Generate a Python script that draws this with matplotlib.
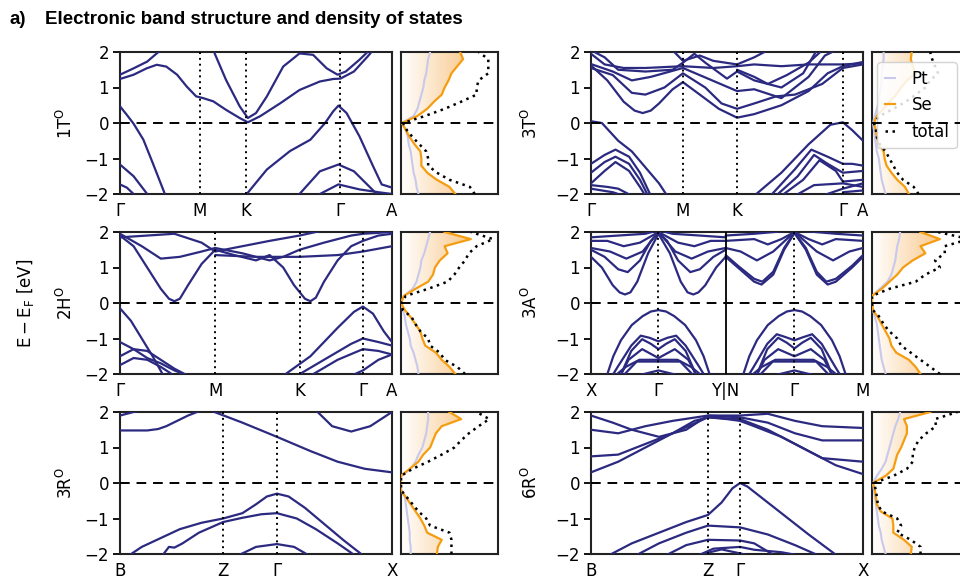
import numpy as np
import matplotlib
matplotlib.use("Agg")
import matplotlib.pyplot as plt
from matplotlib.colors import LinearSegmentedColormap

# ---------------- data ----------------
# high-symmetry points (fractional path positions) and labels
hs_1T = [0.0, 0.294, 0.463, 0.809, 1.0]
lab_1T = ["Γ", "M", "K", "Γ", "A"]
hs_2H = [0.0, 0.35, 0.66, 0.893, 1.0]
lab_2H = ["Γ", "M", "K", "Γ", "A"]
hs_3R = [0.0, 0.379, 0.577, 1.0]
lab_3R = ["B", "Z", "Γ", "X"]
hs_3T = [0.0, 0.338, 0.537, 0.926, 1.0]
lab_3T = ["Γ", "M", "K", "Γ", "A"]
hs_3A = [0.0, 0.248, 0.495, 0.748, 1.0]
lab_3A = ["X", "Γ", "Y|N", "Γ", "M"]
hs_6R = [0.0, 0.43, 0.548, 1.0]
lab_6R = ["B", "Z", "Γ", "X"]

# bands: list of (k, E) pairs
bands_1T = [
    ([0, 0.05, 0.098, 0.135, 0.17, 0.21, 0.245, 0.28, 0.306, 0.343, 0.39, 0.44, 0.47, 0.515, 0.59, 0.66, 0.735, 0.784, 0.81, 0.86, 0.91, 0.93],
     [1.24, 1.36, 1.54, 1.64, 1.59, 1.36, 1.03, 0.75, 0.70, 0.61, 0.37, 0.14, 0.02, 0.19, 0.56, 0.93, 1.17, 1.24, 1.25, 1.45, 1.87, 2.05]),
    ([0, 0.05, 0.1, 0.135, 0.15], [1.36, 1.54, 1.73, 1.96, 2.05]),
    ([0.343, 0.39, 0.44, 0.47, 0.5, 0.54, 0.6, 0.66, 0.71, 0.76, 0.8, 0.83, 0.88, 0.91],
     [2.05, 1.21, 0.47, 0.14, 0.28, 0.75, 1.59, 1.96, 1.92, 1.54, 1.36, 1.45, 1.78, 2.0]),
    ([0, 0.025, 0.05, 0.086, 0.12, 0.165], [0.47, 0.23, -0.02, -0.47, -1.12, -2.0]),
    ([0.466, 0.54, 0.625, 0.7, 0.754, 0.784, 0.803, 0.833, 0.88, 0.93, 0.962, 1.0],
     [-2.0, -1.31, -0.79, -0.47, 0.0, 0.33, 0.49, 0.28, -0.37, -1.21, -1.73, -1.82]),
    ([0.66, 0.735, 0.803, 0.86, 0.944], [-2.0, -1.36, -1.17, -1.36, -2.0]),
    ([0.735, 0.803, 0.88, 0.95, 1.0], [-2.0, -1.73, -1.87, -1.95, -2.0]),
    ([0, 0.05, 0.1], [-1.17, -1.5, -2.0]),
    ([0, 0.025, 0.05], [-1.73, -1.82, -2.0]),
]

bands_2H = [
    ([0, 0.05, 0.1, 0.15, 0.18, 0.2, 0.22, 0.25, 0.3, 0.35, 0.42, 0.5, 0.55, 0.6, 0.64, 0.68, 0.7, 0.72, 0.75, 0.8, 0.85, 0.893, 0.95, 1.0],
     [1.9, 1.6, 1.0, 0.4, 0.12, 0.05, 0.12, 0.5, 1.1, 1.5, 1.35, 1.2, 1.35, 1.0, 0.5, 0.12, 0.05, 0.15, 0.6, 1.2, 1.6, 1.75, 1.9, 1.95]),
    ([0, 0.08, 0.15, 0.22, 0.3, 0.35, 0.45, 0.55, 0.6, 0.66, 0.75, 0.85, 0.893, 1.0],
     [1.95, 1.6, 1.25, 1.3, 1.45, 1.55, 1.4, 1.2, 1.3, 1.5, 1.7, 1.9, 1.95, 2.0]),
    ([0, 0.1, 0.2, 0.3, 0.35, 0.45, 0.55, 0.66, 0.75],
     [1.85, 1.9, 1.95, 1.7, 1.45, 1.6, 1.75, 1.9, 2.05]),
    ([0.35, 0.5, 0.66, 0.8, 0.893, 1.0], [1.35, 1.3, 1.3, 1.35, 1.45, 1.6]),
    ([0, 0.04, 0.08, 0.12, 0.16], [-0.15, -0.5, -1.0, -1.5, -2.05]),
    ([0, 0.05, 0.1, 0.15, 0.2, 0.25], [-1.1, -1.3, -1.55, -1.7, -1.9, -2.05]),
    ([0, 0.05, 0.1, 0.15, 0.2, 0.25], [-1.5, -1.3, -1.35, -1.6, -1.85, -2.05]),
    ([0, 0.05, 0.1, 0.15, 0.2], [-1.75, -1.55, -1.6, -1.8, -2.05]),
    ([0.6, 0.7, 0.8, 0.86, 0.893, 0.93, 0.97, 1.0], [-2.05, -1.5, -0.7, -0.25, -0.1, -0.3, -0.8, -1.1]),
    ([0.65, 0.75, 0.85, 0.893, 0.95, 1.0], [-2.05, -1.6, -1.15, -1.0, -1.1, -1.2]),
    ([0.7, 0.8, 0.893, 0.95, 1.0], [-2.05, -1.6, -1.3, -1.35, -1.45]),
    ([0.85, 0.893, 0.95, 1.0], [-2.05, -1.9, -1.6, -1.45]),
]

bands_3R = [
    ([0, 0.1, 0.14, 0.17, 0.21, 0.25, 0.3], [1.48, 1.48, 1.52, 1.6, 1.75, 1.9, 2.05]),
    ([0, 0.05, 0.08], [1.9, 2.0, 2.05]),
    ([0.33, 0.45, 0.577, 0.7, 0.8, 0.9, 1.0], [2.05, 1.7, 1.3, 0.9, 0.6, 0.4, 0.3]),
    ([0.72, 0.78, 0.85, 0.92, 1.0], [2.05, 1.6, 1.45, 1.6, 2.0]),
    ([0.037, 0.08, 0.15, 0.22, 0.3, 0.379, 0.45, 0.5, 0.54, 0.577, 0.62, 0.68, 0.75, 0.82, 0.89],
     [-2.02, -1.8, -1.55, -1.3, -1.12, -1.0, -0.85, -0.6, -0.38, -0.3, -0.38, -0.7, -1.15, -1.6, -2.02]),
    ([0.158, 0.18, 0.2, 0.23, 0.29, 0.379, 0.45, 0.52, 0.577, 0.65, 0.72, 0.8, 0.86],
     [-2.02, -1.8, -1.82, -1.7, -1.4, -1.1, -0.98, -0.88, -0.85, -1.0, -1.3, -1.7, -2.02]),
    ([0.44, 0.5, 0.577, 0.64, 0.69], [-2.02, -1.8, -1.72, -1.8, -2.02]),
]

bands_3T = [
    ([0, 0.06, 0.12, 0.16, 0.19, 0.22, 0.25, 0.3, 0.338, 0.4, 0.47, 0.537, 0.6, 0.7, 0.8, 0.87, 0.926, 1.0],
     [1.62, 1.2, 0.6, 0.35, 0.28, 0.35, 0.55, 0.95, 1.15, 0.8, 0.4, 0.15, 0.25, 0.5, 0.9, 1.4, 1.6, 1.72]),
    ([0, 0.08, 0.15, 0.2, 0.27, 0.338, 0.42, 0.48, 0.537, 0.6, 0.68, 0.75, 0.85, 0.926, 1.0],
     [1.55, 1.35, 0.85, 0.8, 1.0, 1.4, 1.0, 0.55, 0.4, 0.55, 0.75, 0.8, 1.1, 1.55, 1.65]),
    ([0, 0.08, 0.15, 0.22, 0.338, 0.43, 0.537, 0.6, 0.7, 0.8, 0.86, 0.9],
     [1.66, 1.45, 1.2, 1.3, 1.55, 1.25, 0.9, 0.95, 0.7, 1.3, 1.9, 2.05]),
    ([0, 0.05, 0.12, 0.2, 0.338, 0.45, 0.537, 0.6, 0.7, 0.8, 0.926, 1.0],
     [1.95, 1.65, 1.55, 1.55, 1.6, 1.55, 1.6, 1.65, 1.6, 1.65, 1.65, 1.68]),
    ([0, 0.05, 0.1, 0.2, 0.3, 0.338, 0.38, 0.42, 0.5, 0.537, 0.6, 0.7, 0.78, 0.83],
     [2.05, 1.85, 1.5, 1.45, 1.5, 1.7, 1.95, 1.7, 1.25, 1.45, 1.2, 1.0, 1.4, 2.05]),
    ([0.3, 0.338, 0.4, 0.45, 0.537, 0.6, 0.65], [2.05, 1.75, 1.9, 1.75, 1.65, 1.85, 2.05]),
    ([0.537, 0.6, 0.65, 0.72, 0.8, 0.85], [1.5, 1.3, 1.1, 1.35, 1.7, 2.05]),
    ([0, 0.04, 0.1, 0.15, 0.2, 0.25, 0.28], [0.05, 0.0, -0.5, -0.8, -1.25, -1.7, -2.05]),
    ([0, 0.05, 0.09, 0.14, 0.18, 0.22], [-1.15, -0.9, -0.75, -0.95, -1.4, -2.05]),
    ([0, 0.05, 0.09, 0.14, 0.18, 0.21], [-1.4, -1.1, -0.95, -1.15, -1.6, -2.05]),
    ([0, 0.05, 0.09, 0.14, 0.18, 0.2], [-1.7, -1.35, -1.1, -1.35, -1.8, -2.05]),
    ([0, 0.06, 0.1, 0.15], [-1.75, -1.8, -1.85, -2.05]),
    ([0, 0.08, 0.12], [-1.85, -1.95, -2.05]),
    ([0.6, 0.7, 0.8, 0.88, 0.926, 0.96, 1.0], [-2.05, -1.4, -0.6, -0.05, 0.02, -0.2, -0.5]),
    ([0.66, 0.75, 0.81, 0.87, 0.926, 0.96, 1.0], [-2.05, -1.3, -0.75, -0.95, -1.15, -1.15, -1.2]),
    ([0.68, 0.76, 0.82, 0.87, 0.926, 1.0], [-2.05, -1.5, -0.9, -1.15, -1.4, -1.35]),
    ([0.7, 0.78, 0.84, 0.9, 0.926, 1.0], [-2.05, -1.6, -1.05, -1.35, -1.65, -1.6]),
    ([0.75, 0.82, 0.926, 1.0], [-2.05, -1.75, -1.7, -1.8]),
    ([0.85, 0.926, 1.0], [-2.05, -1.85, -1.7]),
    ([0.926, 1.0], [-1.95, -1.9]),
]

bands_3A = [
    ([0, 0.04, 0.08, 0.105, 0.125, 0.145, 0.17, 0.21, 0.248, 0.29, 0.33, 0.355, 0.376, 0.395, 0.42, 0.46, 0.495],
     [1.3, 1.0, 0.5, 0.3, 0.24, 0.3, 0.6, 1.4, 1.95, 1.4, 0.6, 0.3, 0.24, 0.3, 0.5, 1.0, 1.3]),
    ([0, 0.05, 0.1, 0.135, 0.18, 0.22, 0.248, 0.28, 0.32, 0.365, 0.4, 0.45, 0.495],
     [1.5, 1.3, 0.95, 0.87, 1.2, 1.75, 1.98, 1.75, 1.2, 0.87, 0.95, 1.3, 1.5]),
    ([0, 0.07, 0.13, 0.19, 0.248, 0.31, 0.37, 0.43, 0.495],
     [1.55, 1.45, 1.25, 1.45, 2.0, 1.45, 1.25, 1.45, 1.55]),
    ([0, 0.06, 0.12, 0.18, 0.248, 0.32, 0.38, 0.44, 0.495],
     [1.75, 1.75, 1.6, 1.7, 2.0, 1.7, 1.6, 1.75, 1.75]),
    ([0, 0.1, 0.2, 0.248, 0.3, 0.4, 0.495], [1.85, 1.9, 1.95, 2.05, 1.95, 1.9, 1.85]),
    ([0.495, 0.54, 0.6, 0.627, 0.67, 0.71, 0.748, 0.79, 0.83, 0.87, 0.9, 0.96, 1.0],
     [1.3, 1.0, 0.6, 0.52, 0.8, 1.5, 1.97, 1.5, 0.8, 0.52, 0.6, 1.0, 1.3]),
    ([0.495, 0.54, 0.6, 0.63, 0.67, 0.71, 0.748, 0.79, 0.83, 0.865, 0.9, 0.96, 1.0],
     [1.35, 1.05, 0.68, 0.6, 0.88, 1.55, 1.98, 1.55, 0.88, 0.6, 0.68, 1.05, 1.35]),
    ([0.495, 0.55, 0.61, 0.67, 0.748, 0.83, 0.89, 0.95, 1.0],
     [1.55, 1.45, 1.2, 1.45, 2.0, 1.45, 1.2, 1.45, 1.55]),
    ([0.495, 0.6, 0.65, 0.7, 0.748, 0.8, 0.85, 0.9, 1.0],
     [1.75, 1.8, 1.65, 1.8, 2.0, 1.8, 1.65, 1.8, 1.75]),
    ([0.495, 0.6, 0.748, 0.9, 1.0], [1.9, 1.95, 2.05, 1.95, 1.9]),
    # valence, first segment
    ([0.058, 0.082, 0.11, 0.15, 0.19, 0.22, 0.248, 0.276, 0.306, 0.346, 0.386, 0.414, 0.438],
     [-2.05, -1.5, -1.05, -0.62, -0.37, -0.24, -0.2, -0.24, -0.37, -0.62, -1.05, -1.5, -2.05]),
    ([0.078, 0.098, 0.148, 0.183, 0.215, 0.248, 0.281, 0.313, 0.348, 0.398, 0.418],
     [-2.05, -1.8, -1.2, -0.92, -0.98, -1.08, -0.98, -0.92, -1.2, -1.8, -2.05]),
    ([0.108, 0.148, 0.188, 0.22, 0.248, 0.276, 0.308, 0.348, 0.388],
     [-2.05, -1.35, -1.02, -1.15, -1.3, -1.15, -1.02, -1.35, -2.05]),
    ([0.108, 0.138, 0.188, 0.248, 0.308, 0.358, 0.388],
     [-2.05, -1.6, -1.3, -1.55, -1.3, -1.6, -2.05]),
    ([0.088, 0.128, 0.178, 0.248, 0.318, 0.368, 0.408],
     [-2.05, -1.8, -1.6, -1.6, -1.6, -1.8, -2.05]),
    ([0.118, 0.168, 0.248, 0.328, 0.378], [-2.05, -1.65, -1.65, -1.65, -2.05]),
    ([0.168, 0.248, 0.328], [-2.05, -1.9, -2.05]),
    # valence, second segment
    ([0.558, 0.582, 0.61, 0.65, 0.69, 0.72, 0.748, 0.776, 0.806, 0.846, 0.886, 0.914, 0.938],
     [-2.05, -1.5, -1.05, -0.62, -0.37, -0.24, -0.2, -0.24, -0.37, -0.62, -1.05, -1.5, -2.05]),
    ([0.578, 0.598, 0.648, 0.683, 0.715, 0.748, 0.781, 0.813, 0.848, 0.898, 0.918],
     [-2.05, -1.8, -1.15, -0.88, -0.96, -1.05, -0.96, -0.88, -1.15, -1.8, -2.05]),
    ([0.608, 0.648, 0.688, 0.72, 0.748, 0.776, 0.808, 0.848, 0.888],
     [-2.05, -1.3, -0.98, -1.12, -1.28, -1.12, -0.98, -1.3, -2.05]),
    ([0.608, 0.638, 0.688, 0.748, 0.808, 0.858, 0.888],
     [-2.05, -1.6, -1.3, -1.5, -1.3, -1.6, -2.05]),
    ([0.588, 0.628, 0.678, 0.748, 0.818, 0.868, 0.908],
     [-2.05, -1.8, -1.6, -1.6, -1.6, -1.8, -2.05]),
    ([0.618, 0.668, 0.748, 0.828, 0.878], [-2.05, -1.65, -1.65, -1.65, -2.05]),
    ([0.668, 0.748, 0.828], [-2.05, -1.9, -2.05]),
]

bands_6R = [
    ([0, 0.1, 0.2, 0.3, 0.38, 0.43, 0.5, 0.548, 0.6, 0.7, 0.8, 0.9, 1.0],
     [0.3, 0.6, 1.0, 1.4, 1.75, 1.85, 1.8, 1.75, 1.6, 1.3, 0.9, 0.5, 0.25]),
    ([0, 0.1, 0.2, 0.3, 0.43, 0.548, 0.65, 0.75, 0.85, 1.0],
     [0.75, 0.8, 1.1, 1.4, 1.85, 1.8, 1.5, 1.1, 0.7, 0.6]),
    ([0, 0.08, 0.15, 0.25, 0.35, 0.43, 0.548, 0.65, 0.75, 0.85, 0.95, 1.0],
     [1.9, 1.7, 1.5, 1.3, 1.5, 1.9, 1.85, 1.7, 1.4, 1.2, 1.2, 1.2]),
    ([0, 0.1, 0.2, 0.3, 0.43, 0.548, 0.65, 0.75, 0.85, 1.0],
     [1.5, 1.4, 1.6, 1.75, 1.9, 1.9, 1.95, 1.75, 1.6, 1.55]),
    ([0.07, 0.15, 0.25, 0.35, 0.43, 0.48, 0.52, 0.548, 0.575, 0.6, 0.7, 0.8, 0.9],
     [-2.02, -1.7, -1.4, -1.1, -0.9, -0.55, -0.15, 0.0, -0.1, -0.25, -0.85, -1.45, -2.02]),
    ([0.17, 0.25, 0.35, 0.43, 0.548, 0.65, 0.75, 0.83],
     [-2.02, -1.7, -1.4, -1.2, -1.25, -1.45, -1.75, -2.02]),
    ([0.28, 0.35, 0.43, 0.548, 0.6, 0.67], [-2.02, -1.75, -1.6, -1.62, -1.7, -2.02]),
    ([0.4, 0.45, 0.548, 0.6, 0.7, 0.75], [-2.02, -1.85, -1.8, -1.88, -1.95, -2.02]),
    ([0.4, 0.48, 0.57], [-2.02, -1.87, -2.02]),
]

# density of states: energies and (normalised) DOS for Pt, Se and total
dos_E = [-2.0, -1.8, -1.6, -1.4, -1.2, -1.0, -0.8, -0.6, -0.4, -0.2, 0.0,
         0.2, 0.4, 0.6, 0.8, 1.0, 1.2, 1.4, 1.6, 1.8, 2.0]

dos_1T_pt = [0.18, 0.16, 0.15, 0.13, 0.12, 0.11, 0.10, 0.08, 0.07, 0.05, 0.01,
             0.13, 0.17, 0.19, 0.21, 0.23, 0.24, 0.26, 0.27, 0.28, 0.30]
dos_1T_se = [0.56, 0.50, 0.37, 0.27, 0.21, 0.21, 0.20, 0.14, 0.09, 0.05, 0.01,
             0.17, 0.27, 0.34, 0.42, 0.45, 0.49, 0.52, 0.58, 0.64, 0.61]
dos_1T_tot = [0.76, 0.71, 0.50, 0.37, 0.28, 0.28, 0.26, 0.19, 0.12, 0.06, 0.02,
              0.25, 0.45, 0.62, 0.78, 0.78, 0.80, 0.90, 0.90, 0.90, 0.80]

dos_2H_pt = [0.18, 0.17, 0.15, 0.13, 0.10, 0.09, 0.07, 0.05, 0.04, 0.02, 0.0,
             0.03, 0.12, 0.16, 0.18, 0.20, 0.21, 0.24, 0.26, 0.28, 0.30]
dos_2H_se = [0.56, 0.50, 0.42, 0.36, 0.25, 0.22, 0.20, 0.15, 0.10, 0.04, 0.0,
             0.03, 0.15, 0.28, 0.33, 0.35, 0.40, 0.48, 0.45, 0.72, 0.45]
dos_2H_tot = [0.66, 0.58, 0.45, 0.40, 0.30, 0.28, 0.20, 0.15, 0.11, 0.02, 0.0,
              0.05, 0.28, 0.48, 0.55, 0.60, 0.66, 0.70, 0.78, 0.95, 0.72]

dos_3R_pt = [0.10, 0.10, 0.09, 0.09, 0.08, 0.07, 0.06, 0.05, 0.04, 0.0, 0.0,
             0.0, 0.10, 0.15, 0.18, 0.22, 0.24, 0.26, 0.27, 0.28, 0.28]
dos_3R_se = [0.37, 0.38, 0.42, 0.27, 0.24, 0.20, 0.15, 0.10, 0.05, 0.0, 0.0,
             0.0, 0.09, 0.18, 0.23, 0.30, 0.33, 0.36, 0.42, 0.62, 0.50]
dos_3R_tot = [0.52, 0.52, 0.52, 0.50, 0.30, 0.26, 0.18, 0.12, 0.06, 0.0, 0.0,
              0.0, 0.12, 0.28, 0.42, 0.55, 0.62, 0.70, 0.80, 0.91, 0.78]

dos_3T_pt = [0.14, 0.12, 0.10, 0.09, 0.08, 0.07, 0.05, 0.04, 0.03, 0.02, 0.01,
             0.03, 0.05, 0.07, 0.08, 0.09, 0.10, 0.10, 0.11, 0.12, 0.12]
dos_3T_se = [0.38, 0.34, 0.26, 0.20, 0.15, 0.13, 0.12, 0.07, 0.05, 0.04, 0.02,
             0.05, 0.12, 0.18, 0.25, 0.30, 0.36, 0.45, 0.42, 0.40, 0.41]
dos_3T_tot = [0.48, 0.43, 0.32, 0.26, 0.22, 0.18, 0.14, 0.08, 0.05, 0.04, 0.02,
              0.08, 0.22, 0.35, 0.45, 0.55, 0.60, 0.68, 0.65, 0.62, 0.60]

dos_3A_pt = [0.14, 0.12, 0.10, 0.09, 0.08, 0.07, 0.06, 0.05, 0.03, 0.01, 0.0,
             0.0, 0.08, 0.16, 0.20, 0.22, 0.24, 0.25, 0.26, 0.28, 0.29]
dos_3A_se = [0.50, 0.45, 0.38, 0.25, 0.20, 0.18, 0.14, 0.10, 0.06, 0.01, 0.0,
             0.0, 0.10, 0.18, 0.26, 0.32, 0.42, 0.55, 0.50, 0.70, 0.50]
dos_3A_tot = [0.70, 0.60, 0.50, 0.40, 0.30, 0.26, 0.18, 0.12, 0.08, 0.01, 0.0,
              0.0, 0.18, 0.45, 0.55, 0.70, 0.65, 0.75, 0.75, 1.0, 0.68]

dos_6R_pt = [0.14, 0.12, 0.10, 0.09, 0.07, 0.06, 0.05, 0.04, 0.03, 0.02, 0.01,
             0.05, 0.10, 0.14, 0.16, 0.18, 0.20, 0.22, 0.24, 0.27, 0.29]
dos_6R_se = [0.40, 0.41, 0.33, 0.22, 0.22, 0.21, 0.09, 0.05, 0.04, 0.03, 0.01,
             0.14, 0.22, 0.24, 0.26, 0.30, 0.33, 0.36, 0.36, 0.33, 0.60]
dos_6R_tot = [0.50, 0.50, 0.40, 0.26, 0.30, 0.26, 0.10, 0.06, 0.05, 0.04, 0.02,
              0.22, 0.36, 0.42, 0.42, 0.44, 0.48, 0.56, 0.66, 0.65, 0.88]

row_labels = ["1T$^\\mathrm{O}$", "2H$^\\mathrm{O}$", "3R$^\\mathrm{O}$",
              "3T$^\\mathrm{O}$", "3A$^\\mathrm{O}$", "6R$^\\mathrm{O}$"]

# ---------------- style ----------------
BAND = "#2b2a80"
SE = "#f59d10"
PT = "#c9c9ec"
plt.rcParams["font.family"] = ["DejaVu Sans"]
plt.rcParams["font.size"] = 12

W, H = 960, 579
fig = plt.figure(figsize=(W / 100, H / 100), dpi=100)

def fx(px):
    return px / W

rows_top = [52, 232, 412]
ah = 142
col_band_x = [120, 591]
col_dos_x = [401, 872]
col_label_x = [66, 531]
bw, dw = 272, 97

panels = [
    (0, 0, bands_1T, hs_1T, lab_1T, dos_1T_pt, dos_1T_se, dos_1T_tot, [], row_labels[0]),
    (1, 0, bands_2H, hs_2H, lab_2H, dos_2H_pt, dos_2H_se, dos_2H_tot, [], row_labels[1]),
    (2, 0, bands_3R, hs_3R, lab_3R, dos_3R_pt, dos_3R_se, dos_3R_tot, [], row_labels[2]),
    (0, 1, bands_3T, hs_3T, lab_3T, dos_3T_pt, dos_3T_se, dos_3T_tot, [], row_labels[3]),
    (1, 1, bands_3A, hs_3A, lab_3A, dos_3A_pt, dos_3A_se, dos_3A_tot, [2], row_labels[4]),
    (2, 1, bands_6R, hs_6R, lab_6R, dos_6R_pt, dos_6R_se, dos_6R_tot, [], row_labels[5]),
]

grad_cmap = LinearSegmentedColormap.from_list("g", ["#ffffff", "#f7b96c"])

for r, c, bands, hs, labs, pt, se, tot, solid, rlab in panels:
    top = rows_top[r]
    bottom = 1 - (top + ah) / H
    axb = fig.add_axes([fx(col_band_x[c]), bottom, fx(bw), ah / H])
    for k, e in bands:
        axb.plot(k, e, color=BAND, lw=1.6, solid_capstyle="round",
                 solid_joinstyle="round", zorder=3)
    for i, x in enumerate(hs[1:-1], start=1):
        if i in solid:
            axb.axvline(x, color="black", lw=1.3, zorder=4)
        else:
            axb.axvline(x, color="black", lw=1.4, ls=(0, (1, 2)), zorder=4)
    axb.axhline(0, color="black", lw=1.4, ls=(0, (5, 3.5)), zorder=4)
    axb.set_xlim(0, 1)
    axb.set_ylim(-2, 2)
    axb.set_yticks([-2, -1, 0, 1, 2])
    axb.set_yticklabels(["\u22122", "\u22121", "0", "1", "2"])
    axb.set_xticks(hs)
    axb.set_xticklabels(labs)
    axb.tick_params(axis="x", length=0, pad=6, labelsize=12)
    axb.tick_params(axis="y", length=5, width=1.3, labelsize=12, pad=3)
    for s in axb.spines.values():
        s.set_linewidth(1.5)
        s.set_color("#222222")
    axb.set_ylabel(rlab, fontsize=12, va="center")
    axb.yaxis.set_label_coords((col_label_x[c] - col_band_x[c]) / bw, 0.5)

    # DOS panel
    axd = fig.add_axes([fx(col_dos_x[c]), bottom, fx(dw), ah / H])
    axd.set_xlim(0, 1)
    axd.set_ylim(-2, 2)
    grad = np.linspace(0, 1, 256).reshape(1, -1)
    im = axd.imshow(grad, extent=[0, 0.9, -2, 2], aspect="auto", cmap=grad_cmap,
                    origin="lower", zorder=1, interpolation="bilinear")
    poly = axd.fill_betweenx(dos_E, 0, se, color="none", lw=0)
    im.set_clip_path(poly.get_paths()[0], transform=axd.transData)
    axd.plot(pt, dos_E, color=PT, lw=1.5, zorder=3, label="Pt")
    axd.plot(se, dos_E, color=SE, lw=1.6, zorder=4, label="Se")
    axd.plot(tot, dos_E, color="black", lw=1.8, ls=(0, (1, 1.8)), zorder=5, label="total")
    axd.axhline(0, color="black", lw=1.4, ls=(0, (5, 3.5)), zorder=6)
    axd.set_xticks([])
    axd.set_yticks([])
    for s in axd.spines.values():
        s.set_linewidth(1.5)
        s.set_color("#222222")
    if r == 0 and c == 1:
        axd.legend(loc="upper left", bbox_to_anchor=(0.02, 0.95), fontsize=12,
                   handlelength=0.6, handletextpad=1.0, borderpad=0.45,
                   labelspacing=0.5, framealpha=0.85, borderaxespad=0.2)

fig.text(fx(25), 1 - 303 / H, "$\\mathrm{E-E_F}$ [eV]", rotation=90,
         ha="center", va="center", fontsize=12)
fig.text(fx(10), 1 - 20 / H, "a)", fontsize=13.5, fontweight="bold",
         family=["Liberation Sans", "DejaVu Sans"], ha="left", va="center")
fig.text(fx(45), 1 - 20 / H, "Electronic band structure and density of states",
         fontsize=13.5, fontweight="bold", family=["Liberation Sans", "DejaVu Sans"],
         ha="left", va="center")

fig.savefig("out.png", dpi=100)
